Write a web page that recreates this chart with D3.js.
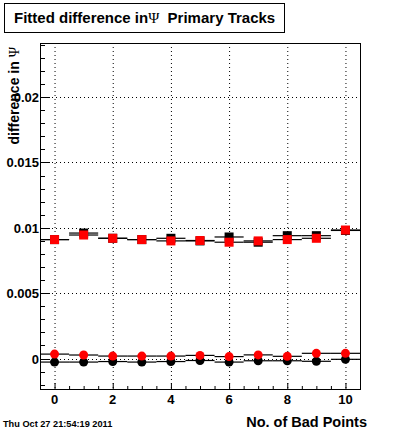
<!DOCTYPE html>
<html>
<head>
<meta charset="utf-8">
<script src="https://cdn.jsdelivr.net/npm/d3@7"></script>
<style>
  body { margin: 0; background: #fff; }
  svg { display: block; font-family: "Liberation Sans", Arial, sans-serif; }
</style>
</head>
<body>
<svg id="chart"></svg>
<script>
// bad points on x axis
var badPoints = [0, 1, 2, 3, 4, 5, 6, 7, 8, 9, 10]

// fitted difference, squares series
var blackSquares = [0.0091, 0.0096, 0.0092, 0.0091, 0.0092, 0.0090, 0.0093, 0.0089, 0.0094, 0.0094, 0.0098]
var redSquares   = [0.0091, 0.00945, 0.0092, 0.0091, 0.0090, 0.00903, 0.0089, 0.0090, 0.0091, 0.0092, 0.00983]

// fitted difference, circles series
var blackCircles = [-0.00027, -0.00027, -0.00023, -0.00027, -0.00023, -0.00015, -0.00027, -0.00017, -0.00017, -0.00021, -0.00006]
var redCircles   = [0.00034, 0.00027, 0.00019, 0.00019, 0.00019, 0.00024, 0.00015, 0.00028, 0.00017, 0.0004, 0.0004]

var xTicks = [0, 2, 4, 6, 8, 10]
var yTicks = [0, 0.005, 0.01, 0.015, 0.02]
var yTickLabels = ['0', '0.005', '0.01', '0.015', '0.02']

var svgWidth = 400, svgHeight = 433
var margin = { top: 43, right: 40, bottom: 44, left: 40 }
var width = svgWidth - margin.left - margin.right
var height = svgHeight - margin.top - margin.bottom

var svg = d3.select('#chart')
    .attr('width', svgWidth)
    .attr('height', svgHeight)

var g = svg.append('g')
    .attr('transform', 'translate(' + margin.left + ',' + margin.top + ')')

var x = d3.scaleLinear().domain([-0.5, 10.5]).range([0, width])
var y = d3.scaleLinear().domain([-0.00233, 0.02414]).range([height, 0])

// dotted grid
g.selectAll('.vgrid').data(xTicks).enter().append('line')
    .attr('x1', function (d) { return x(d) + 0.5 })
    .attr('x2', function (d) { return x(d) + 0.5 })
    .attr('y1', 0).attr('y2', height)
    .attr('stroke', '#000').attr('stroke-dasharray', '1,3')
g.selectAll('.hgrid').data(yTicks).enter().append('line')
    .attr('y1', function (d) { return Math.round(y(d)) + 0.5 })
    .attr('y2', function (d) { return Math.round(y(d)) + 0.5 })
    .attr('x1', 0).attr('x2', width)
    .attr('stroke', '#000').attr('stroke-dasharray', '1,3')

// frame
g.append('rect')
    .attr('x', 0.5).attr('y', 0.5)
    .attr('width', width).attr('height', height)
    .attr('fill', 'none').attr('stroke', '#000')

// x axis ticks (inside the frame)
var xMinor = d3.range(-0.5, 10.51, 0.5)
g.selectAll('.xtick').data(xMinor).enter().append('line')
    .attr('x1', function (d) { return x(d) + 0.5 })
    .attr('x2', function (d) { return x(d) + 0.5 })
    .attr('y1', height)
    .attr('y2', function (d) { return height - (d % 2 === 0 ? 6 : 3) })
    .attr('stroke', '#000')
g.selectAll('.xlab').data(xTicks).enter().append('text')
    .attr('x', function (d) { return x(d) })
    .attr('y', height + 15)
    .attr('text-anchor', 'middle')
    .attr('font-size', 13).attr('font-weight', 'bold')
    .text(function (d) { return d })

// y axis ticks (inside the frame)
var yMinor = d3.range(-2, 25).map(function (i) { return i * 0.001 })
g.selectAll('.ytick').data(yMinor).enter().append('line')
    .attr('y1', function (d) { return Math.round(y(d)) + 0.5 })
    .attr('y2', function (d) { return Math.round(y(d)) + 0.5 })
    .attr('x1', 0)
    .attr('x2', function (d, i) { return ((i - 2) % 5 === 0) ? 10 : 5 })
    .attr('stroke', '#000')
g.selectAll('.ylab').data(yTicks).enter().append('text')
    .attr('x', -1)
    .attr('y', function (d) { return y(d) + 5 })
    .attr('text-anchor', 'end')
    .attr('font-size', 13).attr('font-weight', 'bold')
    .text(function (d, i) { return yTickLabels[i] })

// draw one series: horizontal error bars then markers
function drawSeries(values, color, shape) {
    var pts = badPoints.map(function (b, i) { return { x: b, v: values[i] } })
    g.append('g').selectAll('line').data(pts).enter().append('line')
        .attr('x1', function (d) { return x(d.x - 0.5) })
        .attr('x2', function (d) { return x(d.x + 0.5) })
        .attr('y1', function (d) { return y(d.v) })
        .attr('y2', function (d) { return y(d.v) })
        .attr('stroke', '#000').attr('stroke-width', 1.2)
    if (shape === 'square') {
        g.append('g').selectAll('rect').data(pts).enter().append('rect')
            .attr('x', function (d) { return x(d.x) - 4.5 })
            .attr('y', function (d) { return y(d.v) - 4.5 })
            .attr('width', 9).attr('height', 9)
            .attr('fill', color)
    } else {
        g.append('g').selectAll('circle').data(pts).enter().append('circle')
            .attr('cx', function (d) { return x(d.x) })
            .attr('cy', function (d) { return y(d.v) })
            .attr('r', 4.5)
            .attr('fill', color)
    }
}

drawSeries(blackCircles, '#000', 'circle')
drawSeries(redCircles, '#ff0000', 'circle')
drawSeries(blackSquares, '#000', 'square')
drawSeries(redSquares, '#ff0000', 'square')

// title box
svg.append('rect')
    .attr('x', 4.5).attr('y', 3.5)
    .attr('width', 280).attr('height', 29)
    .attr('fill', '#fff').attr('stroke', '#000')
var title = svg.append('text')
    .attr('x', 14).attr('y', 23)
    .attr('font-size', 15).attr('font-weight', 'bold')
title.append('tspan').text('Fitted difference in')
title.append('tspan')
    .attr('font-family', '"Liberation Serif", "DejaVu Serif", serif')
    .attr('font-weight', 'normal')
    .text('\u03A8')
title.append('tspan').attr('xml:space', 'preserve').text('\u00A0 Primary Tracks')

// axis titles
var yTitle = svg.append('text')
    .attr('transform', 'translate(19,47) rotate(-90)')
    .attr('text-anchor', 'end')
    .attr('font-size', 14).attr('font-weight', 'bold')
yTitle.append('tspan').text('difference in ')
yTitle.append('tspan')
    .attr('font-family', '"Liberation Serif", "DejaVu Serif", serif')
    .attr('font-weight', 'normal')
    .text('\u03A8')
svg.append('text')
    .attr('x', 367).attr('y', 427)
    .attr('text-anchor', 'end')
    .attr('font-size', 14.5).attr('font-weight', 'bold')
    .text('No. of Bad Points')

// date stamp
svg.append('text')
    .attr('x', 3).attr('y', 427)
    .attr('font-size', 9.2).attr('font-weight', 'bold')
    .text('Thu Oct 27 21:54:19 2011')
</script>
</body>
</html>
